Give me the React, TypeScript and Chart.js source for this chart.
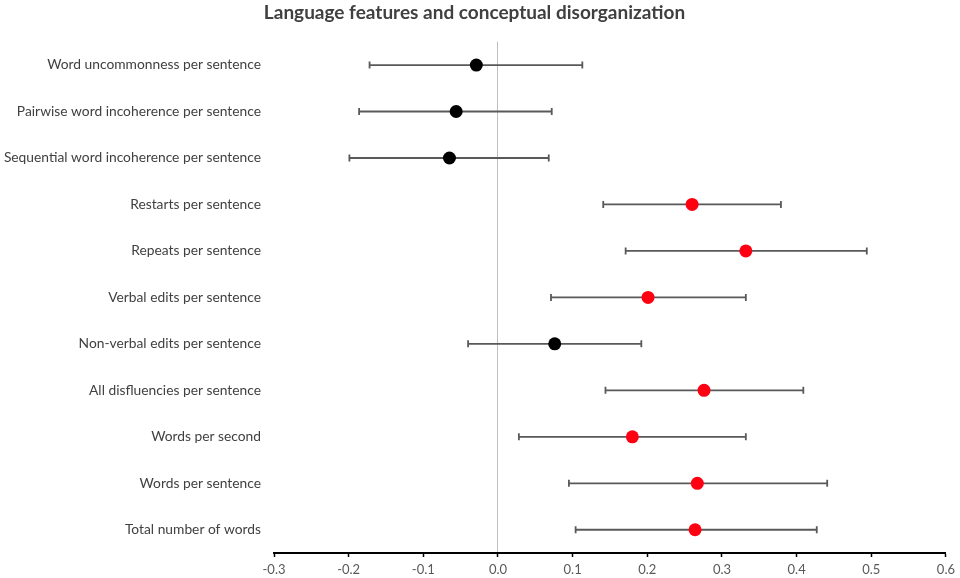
import React, { useEffect, useRef } from "react";
import { Chart, registerables } from "chart.js";

Chart.register(...registerables);

const categories = [
  "Word uncommonness per sentence",
  "Pairwise word incoherence per sentence",
  "Sequential word incoherence per sentence",
  "Restarts per sentence",
  "Repeats per sentence",
  "Verbal edits per sentence",
  "Non-verbal edits per sentence",
  "All disfluencies per sentence",
  "Words per second",
  "Words per sentence",
  "Total number of words",
];

const estimates = [-0.029, -0.056, -0.065, 0.26, 0.332, 0.201, 0.076, 0.276, 0.18, 0.267, 0.264];
const lowerCI = [-0.172, -0.186, -0.199, 0.141, 0.171, 0.071, -0.04, 0.144, 0.028, 0.095, 0.104];
const upperCI = [0.113, 0.072, 0.068, 0.379, 0.494, 0.332, 0.192, 0.409, 0.332, 0.441, 0.427];
const significant = [false, false, false, true, true, true, false, true, true, true, true];

const xTicks = [-0.3, -0.2, -0.1, 0.0, 0.1, 0.2, 0.3, 0.4, 0.5, 0.6];

const title = "Language features and conceptual disorganization";

const errorBarPlugin = {
  id: "errorBars",
  beforeDatasetsDraw(chart: any) {
    const { ctx, scales } = chart;
    const xs = scales.x;
    const ys = scales.y;
    ctx.save();
    ctx.strokeStyle = "#595959";
    ctx.lineWidth = 1.8;
    categories.forEach((_, i) => {
      const y = ys.getPixelForValue(i);
      const x1 = xs.getPixelForValue(lowerCI[i]);
      const x2 = xs.getPixelForValue(upperCI[i]);
      ctx.beginPath();
      ctx.moveTo(x1, y);
      ctx.lineTo(x2, y);
      ctx.moveTo(x1, y - 3.5);
      ctx.lineTo(x1, y + 3.5);
      ctx.moveTo(x2, y - 3.5);
      ctx.lineTo(x2, y + 3.5);
      ctx.stroke();
    });
    ctx.restore();
  },
};

export default function App() {
  const ref = useRef<HTMLCanvasElement | null>(null);

  useEffect(() => {
    if (!ref.current) return;
    const chart = new Chart(ref.current, {
      type: "scatter",
      data: {
        datasets: [
          {
            data: categories.map((c, i) => ({ x: estimates[i], y: c })) as any,
            pointRadius: 6.5,
            pointHoverRadius: 6.5,
            pointBorderWidth: 0,
            pointBackgroundColor: significant.map((s) => (s ? "#ff0012" : "#000000")),
            pointBorderColor: significant.map((s) => (s ? "#ff0012" : "#000000")),
          },
        ],
      },
      options: {
        animation: false,
        responsive: true,
        maintainAspectRatio: false,
        devicePixelRatio: 1,
        layout: { padding: { left: 0, right: 11, top: 0, bottom: 0 } },
        plugins: {
          legend: { display: false },
          tooltip: { enabled: false },
          title: {
            display: true,
            text: title,
            color: "#404040",
            font: { family: "Lato", size: 19, weight: "bold" },
            padding: { top: 1, bottom: 18 },
          },
        },
        scales: {
          x: {
            type: "linear",
            min: -0.3,
            max: 0.6,
            afterBuildTicks: (s: any) => {
              s.ticks = xTicks.map((v) => ({ value: v }));
            },
            afterFit: (s: any) => {
              s.height = 25;
            },
            ticks: {
              callback: (v: any) => Number(v).toFixed(1),
              color: "#595959",
              font: { family: "Lato", size: 13 },
              padding: 5,
              maxRotation: 0,
            },
            grid: {
              drawOnChartArea: true,
              color: (c: any) =>
                c.tick && Math.abs(c.tick.value) < 1e-9 ? "#bfbfbf" : "rgba(0,0,0,0)",
              lineWidth: 1,
              tickLength: 4,
              tickColor: "#000000",
              tickWidth: 1.5,
            },
            border: { display: true, color: "#000000", width: 2 },
          },
          y: {
            type: "category",
            labels: categories,
            offset: true,
            afterFit: (s: any) => {
              s.width = 274;
            },
            ticks: {
              color: "#404040",
              font: { family: "Lato", size: 13.8 },
              padding: 13,
              autoSkip: false,
            },
            grid: { display: false, drawTicks: false },
            border: { display: false },
          },
        },
      } as any,
      plugins: [errorBarPlugin],
    });
    return () => chart.destroy();
  }, []);

  return (
    <div style={{ position: "absolute", left: 0, top: 0, width: 960, height: 578, background: "#fff" }}>
      <canvas ref={ref} />
    </div>
  );
}
